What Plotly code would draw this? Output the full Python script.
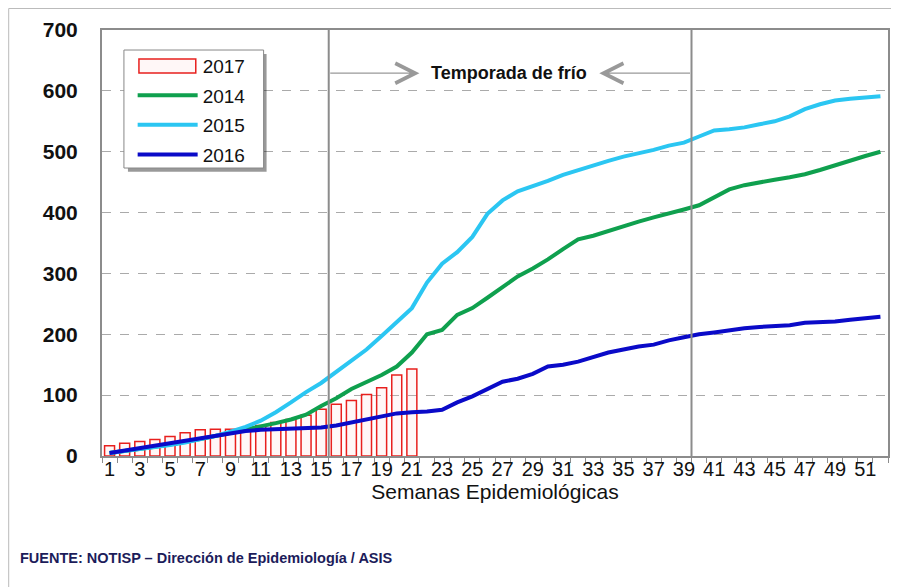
import plotly.graph_objects as go

weeks = list(range(1, 53))
bar_weeks = list(range(1, 22))

# 2017 cumulative cases (bars), weeks 1-21
cases_2017 = [17, 21, 24, 27, 32, 38, 43, 44, 44, 46, 50, 55, 60, 67, 77, 85, 91, 101, 112, 133, 143]

cases_2014 = [5, 8, 12, 15, 19, 23, 28, 33, 38, 43, 48, 54, 60, 68, 82, 95, 110, 122, 133, 147,
              170, 200, 207, 232, 243, 260, 278, 295, 308, 323, 340, 356, 362, 370, 377, 385, 392, 398, 405, 412,
              425, 438, 445, 450, 454, 458, 463, 470, 478, 485, 493, 500]
cases_2015 = [5, 8, 12, 15, 18, 22, 27, 33, 40, 48, 58, 72, 88, 105, 120, 138, 155, 175, 197, 220,
              243, 285, 316, 335, 360, 398, 420, 435, 443, 452, 462, 470, 478, 485, 492, 497, 503, 510, 515, 525,
              535, 537, 540, 545, 550, 558, 570, 578, 584, 587, 589, 591]
cases_2016 = [5, 9, 13, 18, 22, 26, 30, 34, 38, 41, 43, 44, 45, 46, 47, 50, 55, 60, 65, 70,
              72, 73, 76, 88, 98, 110, 122, 127, 135, 147, 150, 155, 163, 170, 175, 180, 183, 190, 195, 200,
              203, 207, 210, 212, 213, 215, 219, 220, 221, 224, 227, 229]

cold_start, cold_end = 15.5, 39.5
arrow_y = 629

bar_line = '#E8201E'
bar_fill = 'rgba(255,190,190,0.12)'

fig = go.Figure()

fig.add_trace(go.Bar(
    x=bar_weeks, y=cases_2017, name='2017', width=0.66, showlegend=False,
    marker=dict(color=bar_fill, line=dict(color=bar_line, width=1.5)),
))
# legend entry for the bars (symbol drawn as a shape below)
fig.add_trace(go.Scatter(x=[None], y=[None], name='2017', mode='lines', legendgroup='a',
                         line=dict(color='rgba(0,0,0,0)', width=4)))
fig.add_trace(go.Scatter(x=weeks, y=cases_2014, name='2014', mode='lines', legendgroup='b',
                         line=dict(color='#0FA04E', width=4)))
fig.add_trace(go.Scatter(x=weeks, y=cases_2015, name='2015', mode='lines', legendgroup='c',
                         line=dict(color='#2BC6F2', width=4)))
fig.add_trace(go.Scatter(x=weeks, y=cases_2016, name='2016', mode='lines', legendgroup='d',
                         line=dict(color='#0A0AC8', width=4)))

# cold-season boundaries
for xv in (cold_start, cold_end):
    fig.add_shape(type='line', x0=xv, x1=xv, y0=0, y1=700, xref='x', yref='y',
                  line=dict(color='#8C8C8C', width=2), layer='above')

# arrows and label
fig.add_annotation(x=21.5, y=arrow_y, ax=cold_start, ay=arrow_y, xref='x', yref='y',
                   axref='x', ayref='y', text='', showarrow=True, arrowhead=5,
                   arrowsize=3, arrowwidth=1.3, arrowcolor='#999999')
fig.add_annotation(x=33.4, y=arrow_y, ax=cold_end, ay=arrow_y, xref='x', yref='y',
                   axref='x', ayref='y', text='', showarrow=True, arrowhead=5,
                   arrowsize=3, arrowwidth=1.3, arrowcolor='#999999')
fig.add_annotation(x=27.45, y=arrow_y, xref='x', yref='y', text='Temporada de frío',
                   showarrow=False, font=dict(size=18, color='#111111', weight='bold'))

# footer
fig.add_annotation(x=-0.107, y=-0.239, xref='paper', yref='paper', xanchor='left',
                   yanchor='middle', showarrow=False,
                   text='FUENTE: NOTISP – Dirección de Epidemiología / ASIS',
                   font=dict(size=14.5, color='#1C1C5A', weight='bold'))

# legend box with shadow
fig.add_shape(type='rect', xref='paper', yref='paper', x0=0.033, x1=0.2094, y0=0.667, y1=0.9437,
              fillcolor='rgba(0,0,0,0.4)', line=dict(width=0), layer='above')
fig.add_shape(type='rect', xref='paper', yref='paper', x0=0.0279, x1=0.2056, y0=0.676, y1=0.953,
              fillcolor='white', line=dict(color='#888888', width=1), layer='above')
fig.add_shape(type='rect', xref='paper', yref='paper', x0=0.047, x1=0.1193, y0=0.899, y1=0.932,
              fillcolor=bar_fill, line=dict(color=bar_line, width=1.5), layer='above')

# outer frame
fig.add_shape(type='rect', xref='paper', yref='paper', x0=-0.1187, x1=1.05, y0=-0.35, y1=1.0505,
              line=dict(color='#BBBBBB', width=1))

fig.update_layout(
    width=891, height=579,
    margin=dict(l=94, r=9, t=22, b=131),
    paper_bgcolor='white', plot_bgcolor='white',
    font=dict(family='Liberation Sans, Arial, sans-serif', color='#111111'),
    legend=dict(x=0.039, y=0.961, xanchor='left', yanchor='top',
                bgcolor='rgba(0,0,0,0)', borderwidth=0,
                font=dict(size=19), itemwidth=60, tracegroupgap=2),
    xaxis=dict(range=[0.5, 52.5], tickvals=list(range(1, 52, 2)),
               ticks='', showgrid=False, showline=True, linecolor='#8C8C8C', linewidth=2,
               mirror=True, tickfont=dict(size=20), zeroline=False, ticklabelstandoff=-6,
               minor=dict(tickvals=[w + 0.5 for w in range(0, 53)], ticks='outside',
                          ticklen=5, tickcolor='#8C8C8C', tickwidth=1),
               title=dict(text='Semanas Epidemiológicas', font=dict(size=21), standoff=2)),
    yaxis=dict(range=[0, 700], tickvals=list(range(0, 701, 100)),
               showgrid=True, gridcolor='#AAAAAA', griddash='dash', gridwidth=1,
               showline=True, linecolor='#8C8C8C', linewidth=2, mirror=True,
               zeroline=False, ticks='', ticklabelstandoff=18,
               tickfont=dict(size=21, weight='bold')),
)

fig.write_html('out.html')
